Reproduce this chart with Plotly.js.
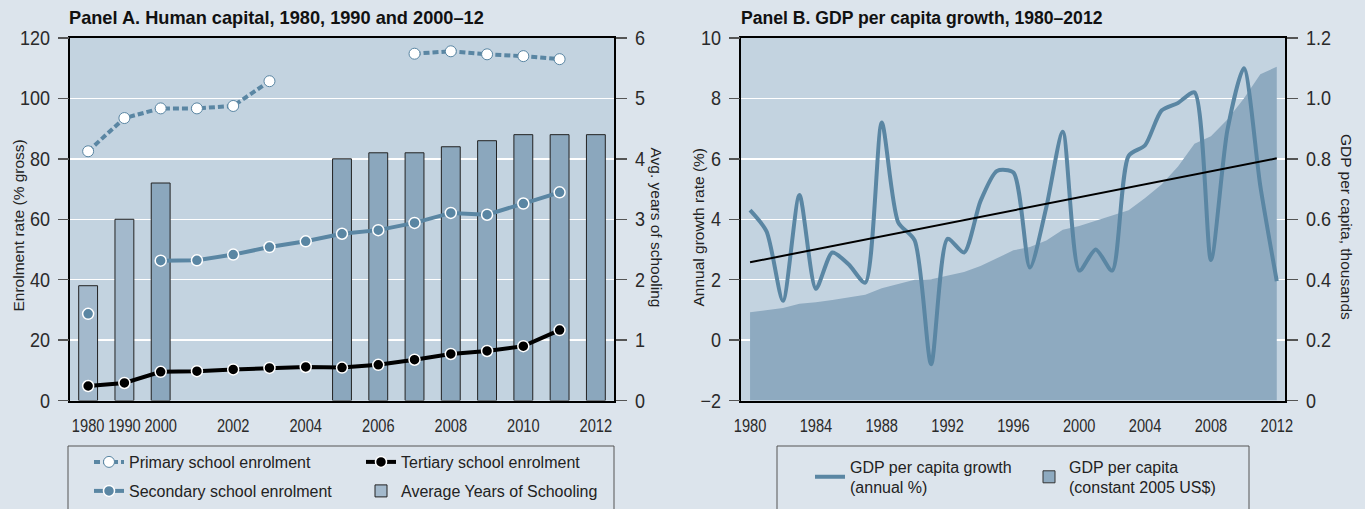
<!DOCTYPE html>
<html>
<head>
<meta charset="utf-8">
<script src="https://cdn.plot.ly/plotly-3.0.1.min.js"></script>
<style>
  html, body { margin: 0; padding: 0; background: #dce4ec; }
  #chart { width: 1365px; height: 509px; }
</style>
</head>
<body>
<div id="chart"></div>
<script>
// ---------------- Panel A data ----------------
const catsA = ['1980','1990','2000','2001','2002','2003','2004','2005','2006','2007','2008','2009','2010','2011','2012'];
const primaryEnrol   = [82.5, 93.5, 96.7, 96.7, 97.5, 105.7, null, null, null, 114.8, 115.6, 114.6, 114.0, 113.0, null];
const secondaryEnrol = [28.7, null, 46.3, 46.4, 48.3, 50.8, 52.7, 55.2, 56.4, 58.8, 62.1, 61.5, 65.2, 68.9, null];
const tertiaryEnrol  = [4.8, 5.8, 9.5, 9.7, 10.3, 10.8, 11.1, 10.9, 11.8, 13.5, 15.4, 16.4, 18.0, 23.3, null];
const avgYearsSchooling = [1.9, 3.0, 3.6, null, null, null, null, 4.0, 4.1, 4.1, 4.2, 4.3, 4.4, 4.4, 4.4];
const tickValsA = ['1980','1990','2000','2002','2004','2006','2008','2010','2012'];
const leftTickValsA = [0, 20, 40, 60, 80, 100, 120];
const rightTickValsA = [0, 1, 2, 3, 4, 5, 6];

// ---------------- Panel B data ----------------
const yearsB = [1980,1981,1982,1983,1984,1985,1986,1987,1988,1989,1990,1991,1992,1993,1994,1995,1996,1997,1998,1999,2000,2001,2002,2003,2004,2005,2006,2007,2008,2009,2010,2011,2012];
const gdpGrowth = [4.3, 3.6, 1.3, 4.8, 1.7, 2.9, 2.5, 1.9, 7.2, 3.9, 3.3, -0.8, 3.35, 2.9, 4.6, 5.6, 5.55, 2.4, 4.4, 6.9, 2.3, 3.0, 2.3, 6.1, 6.45, 7.6, 7.85, 8.2, 2.65, 6.95, 9.0, 5.1, 1.95];
const gdpPerCapita = [0.292, 0.300, 0.306, 0.320, 0.325, 0.333, 0.341, 0.350, 0.372, 0.386, 0.400, 0.401, 0.413, 0.425, 0.445, 0.470, 0.497, 0.508, 0.530, 0.565, 0.578, 0.595, 0.612, 0.630, 0.670, 0.715, 0.775, 0.850, 0.875, 0.930, 1.000, 1.080, 1.105];
const tickValsB = [1980, 1984, 1988, 1992, 1996, 2000, 2004, 2008, 2012];
const leftTickValsB = [-2, 0, 2, 4, 6, 8, 10];
const rightTickValsB = [0, 0.2, 0.4, 0.6, 0.8, 1.0, 1.2];
const rightTickTextB = ['0', '0.2', '0.4', '0.6', '0.8', '1.0', '1.2'];

// ---------------- Texts ----------------
const titleA = 'Panel A. Human capital, 1980, 1990 and 2000–12';
const titleB = 'Panel B. GDP per capita growth, 1980–2012';

// ---------------- Styles ----------------
const W = 1365, H = 509;
const px = v => v / W;
const py = v => 1 - v / H;
const pageBg = '#dce4ec';
const plotBg = '#c3d3e0';
const blue = '#5a86a3';
const barDark = '#8ba7bd';
const barLight = '#a3b9cc';
const areaColor = '#8eaac0';
const sans = '"Liberation Sans", Arial, sans-serif';

// bar colours: the earliest two observations are lighter
const barColors = catsA.map((c, i) => i < 2 ? barLight : barDark);

// linear trend of the growth series (least squares)
const n = yearsB.length;
const mx = yearsB.reduce((a, b) => a + b, 0) / n;
const my = gdpGrowth.reduce((a, b) => a + b, 0) / n;
let sxy = 0, sxx = 0;
for (let i = 0; i < n; i++) { sxy += (yearsB[i] - mx) * (gdpGrowth[i] - my); sxx += (yearsB[i] - mx) ** 2; }
const slope = sxy / sxx;
const trendX = [yearsB[0], yearsB[n - 1]];
const trendY = trendX.map(x => my + slope * (x - mx));

const legendBase = {
  bgcolor: 'rgba(0,0,0,0)', borderwidth: 0, xanchor: 'left', yanchor: 'middle',
  font: { family: sans, size: 16, color: '#222' }, orientation: 'v'
};

const traces = [
  // Panel A
  { type: 'bar', x: catsA, y: avgYearsSchooling, xaxis: 'x', yaxis: 'y', width: 0.52,
    marker: { color: barColors, line: { color: '#222', width: 1 } },
    name: 'Average Years of Schooling', legend: 'legend4', hoverinfo: 'skip' },
  { type: 'scatter', mode: 'lines+markers', x: catsA, y: primaryEnrol, xaxis: 'x', yaxis: 'y2',
    line: { color: blue, width: 4, dash: '6px,3px' },
    marker: { size: 11, color: '#ffffff', line: { color: blue, width: 1 } },
    name: 'Primary school enrolment', legend: 'legend', connectgaps: false },
  { type: 'scatter', mode: 'lines+markers', x: catsA, y: secondaryEnrol, xaxis: 'x', yaxis: 'y2',
    line: { color: blue, width: 4 },
    marker: { size: 11, color: blue, line: { color: '#ffffff', width: 1.5 } },
    name: 'Secondary school enrolment', legend: 'legend3', connectgaps: false },
  { type: 'scatter', mode: 'lines+markers', x: catsA, y: tertiaryEnrol, xaxis: 'x', yaxis: 'y2',
    line: { color: '#000000', width: 4 },
    marker: { size: 11, color: '#000000', line: { color: '#ffffff', width: 1.5 } },
    name: 'Tertiary school enrolment', legend: 'legend2', connectgaps: false },
  // Panel B
  { type: 'scatter', mode: 'lines', x: yearsB, y: gdpPerCapita, xaxis: 'x2', yaxis: 'y3',
    fill: 'tozeroy', fillcolor: areaColor, line: { width: 0, color: areaColor },
    showlegend: false, hoverinfo: 'skip' },
  { type: 'bar', x: [null], y: [null], xaxis: 'x2', yaxis: 'y3',
    marker: { color: areaColor, line: { color: '#333', width: 1 } },
    name: 'GDP per capita<br>(constant 2005 US$)', legend: 'legend6', hoverinfo: 'skip' },
  { type: 'scatter', mode: 'lines', x: yearsB, y: gdpGrowth, xaxis: 'x2', yaxis: 'y4',
    line: { color: blue, width: 4, shape: 'spline', smoothing: 0.7 },
    name: 'GDP per capita growth<br>(annual %)', legend: 'legend5' },
  { type: 'scatter', mode: 'lines', x: trendX, y: trendY, xaxis: 'x2', yaxis: 'y4',
    line: { color: '#000000', width: 2 }, showlegend: false, hoverinfo: 'skip' }
];

const yDom = [py(400.5), py(38)];
const tickFontY = { family: sans, size: 20, color: '#2a2a2a' };
const tickFontX = { family: sans, size: 19, color: '#2a2a2a' };

const layout = {
  width: W, height: H,
  margin: { l: 0, r: 0, t: 0, b: 0, pad: 0 },
  paper_bgcolor: pageBg, plot_bgcolor: plotBg,
  showlegend: true,
  xaxis: {
    domain: [px(70), px(614)], anchor: 'y', type: 'category', categoryorder: 'array', categoryarray: catsA,
    range: [-0.5, 14.5], tickmode: 'array', tickvals: tickValsA, ticktext: tickValsA, tickangle: 0,
    showline: true, mirror: true, linecolor: '#000', linewidth: 2,
    ticks: '', ticklabelstandoff: 7, tickfont: tickFontX, showgrid: false, zeroline: false
  },
  yaxis: {
    domain: yDom, anchor: 'x', side: 'right', range: [0, 6], tickmode: 'array', tickvals: rightTickValsA,
    showline: true, mirror: true, linecolor: '#000', linewidth: 2,
    ticks: 'outside', ticklen: 11, tickwidth: 1.5, tickcolor: '#555', ticklabelstandoff: 4,
    tickfont: tickFontY, showgrid: false, zeroline: false
  },
  yaxis2: {
    overlaying: 'y', anchor: 'x', side: 'left', range: [0, 120], tickmode: 'array', tickvals: leftTickValsA,
    showline: false, ticks: 'outside', ticklen: 11, tickwidth: 1.5, tickcolor: '#555', ticklabelstandoff: 4,
    tickfont: tickFontY, showgrid: true, gridcolor: '#ffffff', gridwidth: 1.5, zeroline: false
  },
  xaxis2: {
    domain: [px(741), px(1285)], anchor: 'y3', range: [1979.45, 2012.5],
    tickmode: 'array', tickvals: tickValsB, tickangle: 0,
    showline: true, mirror: true, linecolor: '#000', linewidth: 2,
    ticks: '', ticklabelstandoff: 7, tickfont: tickFontX, showgrid: false, zeroline: false
  },
  yaxis3: {
    domain: yDom, anchor: 'x2', side: 'right', range: [0, 1.2], tickmode: 'array',
    tickvals: rightTickValsB, ticktext: rightTickTextB,
    showline: true, mirror: true, linecolor: '#000', linewidth: 2,
    ticks: 'outside', ticklen: 11, tickwidth: 1.5, tickcolor: '#555', ticklabelstandoff: 4,
    tickfont: tickFontY, showgrid: false, zeroline: false
  },
  yaxis4: {
    overlaying: 'y3', anchor: 'x2', side: 'left', range: [-2, 10], tickmode: 'array', tickvals: leftTickValsB,
    showline: false, ticks: 'outside', ticklen: 11, tickwidth: 1.5, tickcolor: '#555', ticklabelstandoff: 4,
    tickfont: tickFontY, showgrid: true, gridcolor: '#ffffff', gridwidth: 1.5, zeroline: false
  },
  legend:  Object.assign({}, legendBase, { x: px(89),  y: py(462) }),
  legend2: Object.assign({}, legendBase, { x: px(361), y: py(462) }),
  legend3: Object.assign({}, legendBase, { x: px(89),  y: py(491) }),
  legend4: Object.assign({}, legendBase, { x: px(361), y: py(491) }),
  legend5: Object.assign({}, legendBase, { x: px(810), y: py(477) }),
  legend6: Object.assign({}, legendBase, { x: px(1029), y: py(477) }),
  shapes: [
    { type: 'rect', xref: 'paper', yref: 'paper', x0: px(68), x1: px(614), y0: py(446), y1: py(530),
      line: { color: '#555', width: 1 }, fillcolor: 'rgba(0,0,0,0)' },
    { type: 'rect', xref: 'paper', yref: 'paper', x0: px(777), x1: px(1249), y0: py(446), y1: py(530),
      line: { color: '#555', width: 1 }, fillcolor: 'rgba(0,0,0,0)' }
  ],
  annotations: [
    { text: '<b>' + titleA + '</b>', xref: 'paper', yref: 'paper', x: px(67), y: py(18), xanchor: 'left', yanchor: 'middle',
      showarrow: false, font: { family: sans, size: 18.2, color: '#111' } },
    { text: '<b>' + titleB + '</b>', xref: 'paper', yref: 'paper', x: px(739), y: py(18), xanchor: 'left', yanchor: 'middle',
      showarrow: false, font: { family: sans, size: 17.6, color: '#111' } },
    { text: 'Enrolment rate (% gross)', xref: 'paper', yref: 'paper', x: px(17.5), y: py(226), textangle: -90,
      xanchor: 'center', yanchor: 'middle', showarrow: false, font: { family: sans, size: 15.5, color: '#222' } },
    { text: 'Avg. years of schooling', xref: 'paper', yref: 'paper', x: px(656), y: py(227.5), textangle: 90,
      xanchor: 'center', yanchor: 'middle', showarrow: false, font: { family: sans, size: 15.5, color: '#222' } },
    { text: 'Annual growth rate (%)', xref: 'paper', yref: 'paper', x: px(697.5), y: py(227), textangle: -90,
      xanchor: 'center', yanchor: 'middle', showarrow: false, font: { family: sans, size: 15.5, color: '#222' } },
    { text: 'GDP per capita, thousands', xref: 'paper', yref: 'paper', x: px(1347), y: py(227), textangle: 90,
      xanchor: 'center', yanchor: 'middle', showarrow: false, font: { family: sans, size: 15.5, color: '#222' } }
  ]
};

// narrow the tick labels horizontally (the original uses a condensed face)
function condense(selector, factor) {
  document.querySelectorAll(selector).forEach(t => {
    const x = parseFloat(t.getAttribute('x')) || 0;
    const y = parseFloat(t.getAttribute('y')) || 0;
    const tr = t.getAttribute('transform') || '';
    t.setAttribute('transform', tr + ` translate(${x},${y}) scale(${factor},1) translate(${-x},${-y})`);
  });
}

Plotly.newPlot('chart', traces, layout, { staticPlot: true, displayModeBar: false }).then(() => {
  condense('.xtick text, .x2tick text', 0.77);
  condense('.ytick text, .y2tick text, .y3tick text, .y4tick text', 0.9);
});
</script>
</body>
</html>
